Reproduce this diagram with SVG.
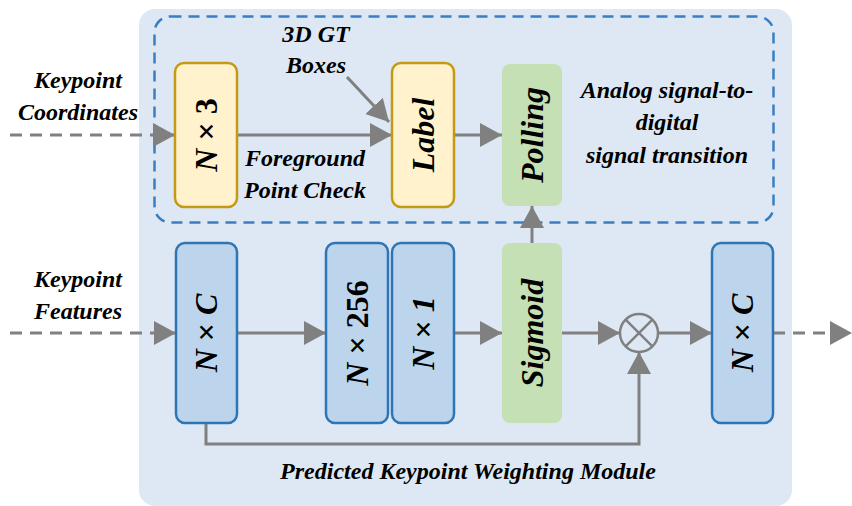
<svg xmlns="http://www.w3.org/2000/svg" width="852" height="506" viewBox="0 0 852 506">
<style>
.lbl{text-anchor:middle}
.bx{text-anchor:middle;dominant-baseline:central}
.blue{fill:#bdd5ec;stroke:#2e75b6;stroke-width:2.5}
.yel{fill:#fff2cc;stroke:#c49a14;stroke-width:2.5}
.grn{fill:#c5e0b4;stroke:none}
.ln{stroke:#808080;stroke-width:3;fill:none}
.dash{stroke-dasharray:12 8}
</style>
<defs>
<marker id="ah" viewBox="0 0 22 24" refX="22" refY="12" markerWidth="22" markerHeight="24" markerUnits="userSpaceOnUse" orient="auto">
<path d="M0,0 L22,12 L0,24 Z" fill="#808080"/>
</marker>
</defs>
<rect x="0" y="0" width="852" height="506" fill="#ffffff"/>
<rect id="panel" x="139" y="9" width="653" height="497" rx="16" fill="#dde8f4"/>
<rect id="dashbox" x="154.5" y="16.5" width="619" height="206" rx="16" fill="none" stroke="#3a7dc0" stroke-width="2.5" stroke-dasharray="11 7"/>

<g id="connectors">
<line class="ln dash" x1="10" y1="135" x2="175" y2="135" marker-end="url(#ah)"/>
<line class="ln" x1="237" y1="135" x2="392" y2="135" marker-end="url(#ah)"/>
<line class="ln" x1="347" y1="77" x2="389" y2="122" marker-end="url(#ah)"/>
<line class="ln" x1="454" y1="135" x2="502" y2="135" marker-end="url(#ah)"/>
<line class="ln dash" x1="10" y1="333" x2="176" y2="333" marker-end="url(#ah)"/>
<line class="ln" x1="237" y1="333" x2="326" y2="333" marker-end="url(#ah)"/>
<line class="ln" x1="454" y1="333" x2="502" y2="333" marker-end="url(#ah)"/>
<line class="ln" x1="532" y1="243" x2="532" y2="206" marker-end="url(#ah)"/>
<line class="ln" x1="562" y1="333" x2="620" y2="333" marker-end="url(#ah)"/>
<line class="ln" x1="658" y1="333" x2="712" y2="333" marker-end="url(#ah)"/>
<line class="ln dash" x1="773" y1="333" x2="852" y2="333" marker-end="url(#ah)"/>
<path class="ln" d="M206,423 V444 H639 V352" marker-end="url(#ah)"/>
</g>

<g id="n3"><rect class="yel" x="175" y="63" width="62" height="144" rx="9"/>
<text class="bx" font-family="Liberation Serif" font-size="32" font-weight="bold" font-style="italic" transform="translate(206,135) rotate(-90)">N <tspan font-style="normal">× 3</tspan></text></g>
<g id="label"><rect class="yel" x="392" y="63" width="62" height="144" rx="9"/>
<text class="bx" font-family="Liberation Serif" font-size="32" font-weight="bold" font-style="italic" transform="translate(423,135) rotate(-90)">Label</text></g>
<g id="polling"><rect class="grn" x="502" y="64" width="60" height="142" rx="8"/>
<text class="bx" font-family="Liberation Serif" font-size="32" font-weight="bold" font-style="italic" transform="translate(532,135) rotate(-90)">Polling</text></g>

<g id="nc1"><rect class="blue" x="176" y="243" width="61" height="180" rx="9"/>
<text class="bx" font-family="Liberation Serif" font-size="32" font-weight="bold" font-style="italic" transform="translate(206,333) rotate(-90)">N <tspan font-style="normal">×</tspan> C</text></g>
<g id="n256"><rect class="blue" x="326" y="243" width="62" height="180" rx="9"/>
<text class="bx" font-family="Liberation Serif" font-size="32" font-weight="bold" font-style="italic" transform="translate(357,333) rotate(-90)">N <tspan font-style="normal">× 256</tspan></text></g>
<g id="n1"><rect class="blue" x="392" y="243" width="62" height="180" rx="9"/>
<text class="bx" font-family="Liberation Serif" font-size="32" font-weight="bold" font-style="italic" transform="translate(423,333) rotate(-90)">N <tspan font-style="normal">×</tspan> 1</text></g>
<g id="sigmoid"><rect class="grn" x="502" y="243" width="60" height="180" rx="8"/>
<text class="bx" font-family="Liberation Serif" font-size="32" font-weight="bold" font-style="italic" transform="translate(532,333) rotate(-90)">Sigmoid</text></g>
<g id="mult"><circle cx="639" cy="333" r="19" fill="none" stroke="#808080" stroke-width="2.5"/>
<path d="M625.6,319.6 L652.4,346.4 M652.4,319.6 L625.6,346.4" stroke="#808080" stroke-width="2.5"/></g>
<g id="nc2"><rect class="blue" x="712" y="243" width="61" height="180" rx="9"/>
<text class="bx" font-family="Liberation Serif" font-size="32" font-weight="bold" font-style="italic" transform="translate(742,333) rotate(-90)">N <tspan font-style="normal">×</tspan> C</text></g>

<g id="texts">
<text class="lbl" font-family="Liberation Serif" font-size="24" font-weight="bold" font-style="italic" x="78" y="88">Keypoint</text>
<text class="lbl" font-family="Liberation Serif" font-size="24" font-weight="bold" font-style="italic" x="78" y="120">Coordinates</text>
<text class="lbl" font-family="Liberation Serif" font-size="24" font-weight="bold" font-style="italic" x="78" y="287">Keypoint</text>
<text class="lbl" font-family="Liberation Serif" font-size="24" font-weight="bold" font-style="italic" x="78" y="319">Features</text>
<text class="lbl" font-family="Liberation Serif" font-size="24" font-weight="bold" font-style="italic" x="316" y="42">3D GT</text>
<text class="lbl" font-family="Liberation Serif" font-size="24" font-weight="bold" font-style="italic" x="316" y="73">Boxes</text>
<text class="lbl" font-family="Liberation Serif" font-size="24" font-weight="bold" font-style="italic" x="305" y="166">Foreground</text>
<text class="lbl" font-family="Liberation Serif" font-size="24" font-weight="bold" font-style="italic" x="305" y="198">Point Check</text>
<text class="lbl" font-family="Liberation Serif" font-size="24" font-weight="bold" font-style="italic" x="667" y="98">Analog signal-to-</text>
<text class="lbl" font-family="Liberation Serif" font-size="24" font-weight="bold" font-style="italic" x="667" y="130">digital</text>
<text class="lbl" font-family="Liberation Serif" font-size="24" font-weight="bold" font-style="italic" x="667" y="163">signal transition</text>
<text class="lbl" font-family="Liberation Serif" font-size="24" font-weight="bold" font-style="italic" x="468" y="479">Predicted Keypoint Weighting Module</text>
</g>
</svg>
